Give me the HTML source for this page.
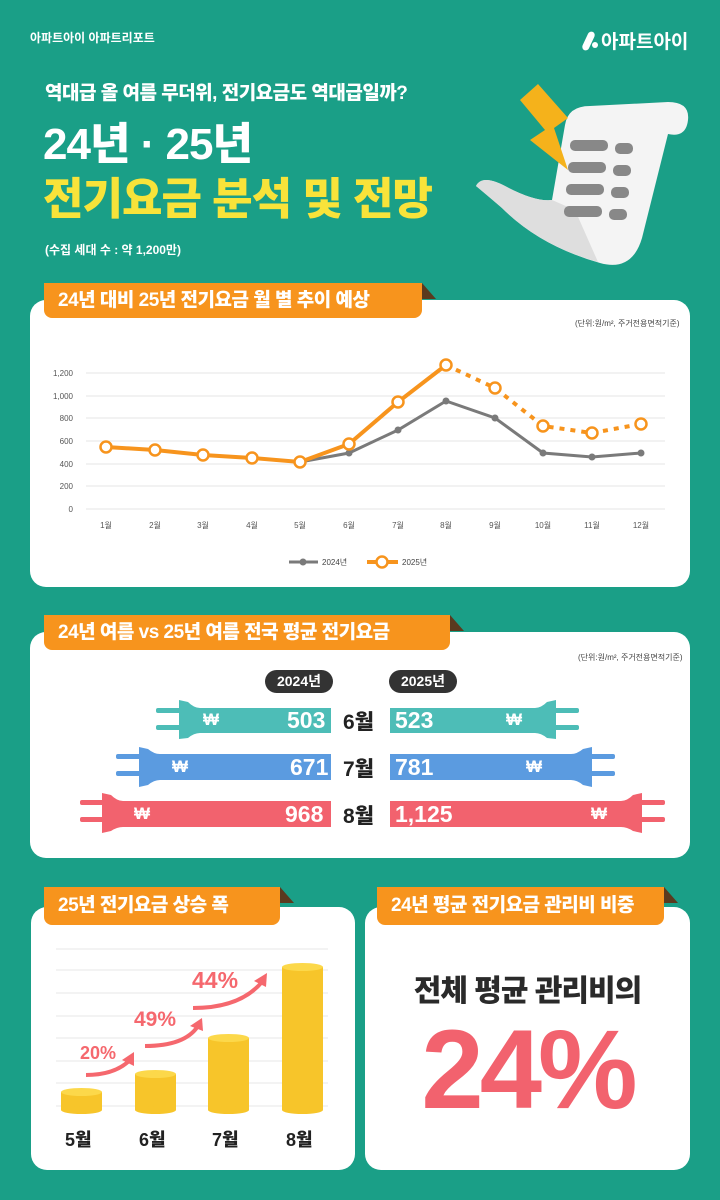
<!DOCTYPE html>
<html><head><meta charset="utf-8">
<style>
*{margin:0;padding:0;box-sizing:border-box}
body{width:720px;height:1200px;background:#1a9f87;font-family:"Liberation Sans","Noto Sans CJK KR",sans-serif;position:relative;overflow:hidden}
.a{position:absolute;white-space:nowrap}
.card{position:absolute;background:#fff;border-radius:16px}
.tab{position:absolute;background:#f7941d;border-radius:0 0 8px 8px;color:#fff;font-weight:900;font-size:19px;line-height:35px;padding-left:14px;letter-spacing:-0.5px}
.fold{position:absolute;width:0;height:0;border-bottom:16px solid #5a3a1e;border-right:14px solid transparent}
.pill{position:absolute;background:#333;color:#fff;font-weight:bold;font-size:14px;border-radius:12px;text-align:center;line-height:23px}
.v{position:absolute;color:#fff;font-weight:900;font-size:23px;line-height:26px}
.m{position:absolute;font-weight:900;font-size:21px;color:#222}
</style></head><body>

<div class="a" style="left:30px;top:29px;color:#fff;font-weight:bold;font-size:12px">아파트아이 아파트리포트</div>
<div class="a" style="left:585px;top:27px;color:#fff;font-weight:bold;font-size:19px"><span style="display:inline-block;width:7px;height:20px;background:#fff;border-radius:4px;transform:rotate(25deg);vertical-align:-3px"></span><span style="display:inline-block;width:6px;height:6px;background:#fff;border-radius:3px;margin-right:3px"></span>아파트아이</div>

<div class="a" style="left:45px;top:78px;color:#fff;font-weight:900;font-size:19px;letter-spacing:-0.5px">역대급 올 여름 무더위, 전기요금도 역대급일까?</div>
<div class="a" style="left:43px;top:108px;color:#fff;font-weight:900;font-size:44px;letter-spacing:-1px">24년 · 25년</div>
<div class="a" style="left:43px;top:163px;color:#f8e33a;font-weight:900;font-size:44px;letter-spacing:-1px">전기요금 분석 및 전망</div>
<div class="a" style="left:45px;top:241px;color:#fff;font-weight:bold;font-size:12px">(수집 세대 수 : 약 1,200만)</div>

<svg class="a" style="left:0;top:0" width="720" height="300">
 <path d="M565,125 Q568,106 590,106 L668,102 Q690,102 688,120 Q686,138 668,134 L642,238 Q632,272 600,263 Q540,246 502,208 Q485,193 476,186 Q482,174 505,186 Q535,202 552,200 Z" fill="#f4f4f4"/>
 <path d="M476,186 Q482,174 505,186 Q535,202 552,200 L575,210 L598,262 Q540,246 502,208 Z" fill="#dedede"/>
 <g fill="#888">
  <rect x="570" y="140" width="38" height="11" rx="5"/><rect x="615" y="143" width="18" height="11" rx="5"/>
  <rect x="568" y="162" width="38" height="11" rx="5"/><rect x="613" y="165" width="18" height="11" rx="5"/>
  <rect x="566" y="184" width="38" height="11" rx="5"/><rect x="611" y="187" width="18" height="11" rx="5"/>
  <rect x="564" y="206" width="38" height="11" rx="5"/><rect x="609" y="209" width="18" height="11" rx="5"/></g>
 <path d="M538,84 L568,118 L554,128 L568,170 L530,140 L545,130 L520,100 Z" fill="#f5b21b"/>
</svg>

<!-- card 1 -->
<div class="card" style="left:30px;top:300px;width:660px;height:287px"></div>
<div class="fold" style="left:422px;top:283px"></div>
<div class="tab" style="left:44px;top:283px;width:378px;height:35px">24년 대비 25년 전기요금 월 별 추이 예상</div>
<div class="a" style="left:575px;top:318px;font-size:8px;color:#444">(단위:원/m², 주거전용면적기준)</div>
<svg class="a" style="left:0;top:0" width="720" height="600">
 <g stroke="#e6e6e6" stroke-width="1">
  <line x1="86" x2="665" y1="373" y2="373"/><line x1="86" x2="665" y1="396" y2="396"/><line x1="86" x2="665" y1="418" y2="418"/>
  <line x1="86" x2="665" y1="441" y2="441"/><line x1="86" x2="665" y1="464" y2="464"/><line x1="86" x2="665" y1="486" y2="486"/><line x1="86" x2="665" y1="509" y2="509"/></g>
 <g font-size="8" fill="#555" text-anchor="end" font-family="Liberation Sans">
  <text x="73" y="376">1,200</text><text x="73" y="399">1,000</text><text x="73" y="421">800</text><text x="73" y="444">600</text><text x="73" y="467">400</text><text x="73" y="489">200</text><text x="73" y="512">0</text></g>
 <g font-size="8" fill="#555" text-anchor="middle" font-family="Liberation Sans,Noto Sans CJK KR">
  <text x="106" y="528">1월</text><text x="155" y="528">2월</text><text x="203" y="528">3월</text><text x="252" y="528">4월</text><text x="300" y="528">5월</text><text x="349" y="528">6월</text><text x="398" y="528">7월</text><text x="446" y="528">8월</text><text x="495" y="528">9월</text><text x="543" y="528">10월</text><text x="592" y="528">11월</text><text x="641" y="528">12월</text></g>
 <polyline fill="none" stroke="#7a7a7a" stroke-width="3" points="300,462 349,453 398,430 446,401 495,418 543,453 592,457 641,453"/>
 <g fill="#7a7a7a"><circle cx="349" cy="453" r="3.5"/><circle cx="398" cy="430" r="3.5"/><circle cx="446" cy="401" r="3.5"/><circle cx="495" cy="418" r="3.5"/><circle cx="543" cy="453" r="3.5"/><circle cx="592" cy="457" r="3.5"/><circle cx="641" cy="453" r="3.5"/></g>
 <polyline fill="none" stroke="#f7941d" stroke-width="4" points="106,447 155,450 203,455 252,458 300,462 349,444 398,402 446,365"/>
 <polyline fill="none" stroke="#f7941d" stroke-width="4" stroke-dasharray="5,6" points="446,365 495,388 543,426 592,433 641,424"/>
 <g fill="#fff" stroke="#f7941d" stroke-width="2.5">
  <circle cx="106" cy="447" r="5.5"/><circle cx="155" cy="450" r="5.5"/><circle cx="203" cy="455" r="5.5"/><circle cx="252" cy="458" r="5.5"/><circle cx="300" cy="462" r="5.5"/><circle cx="349" cy="444" r="5.5"/><circle cx="398" cy="402" r="5.5"/><circle cx="446" cy="365" r="5.5"/><circle cx="495" cy="388" r="5.5"/><circle cx="543" cy="426" r="5.5"/><circle cx="592" cy="433" r="5.5"/><circle cx="641" cy="424" r="5.5"/></g>
 <line x1="289" x2="318" y1="562" y2="562" stroke="#7a7a7a" stroke-width="3"/><circle cx="303" cy="562" r="3.5" fill="#7a7a7a"/>
 <text x="322" y="565" font-size="8" fill="#444" font-family="Liberation Sans,Noto Sans CJK KR">2024년</text>
 <line x1="367" x2="398" y1="562" y2="562" stroke="#f7941d" stroke-width="4"/><circle cx="382" cy="562" r="5.5" fill="#fff" stroke="#f7941d" stroke-width="2.5"/>
 <text x="402" y="565" font-size="8" fill="#444" font-family="Liberation Sans,Noto Sans CJK KR">2025년</text>
</svg>

<!-- card 2 -->
<div class="card" style="left:30px;top:632px;width:660px;height:226px"></div>
<div class="fold" style="left:450px;top:615px"></div>
<div class="tab" style="left:44px;top:615px;width:406px;height:35px">24년 여름 vs 25년 여름 전국 평균 전기요금</div>
<div class="a" style="left:578px;top:652px;font-size:8px;color:#444">(단위:원/m², 주거전용면적기준)</div>
<div class="pill" style="left:265px;top:670px;width:68px;height:23px">2024년</div>
<div class="pill" style="left:389px;top:670px;width:68px;height:23px">2025년</div>
<svg class="a" style="left:0;top:0" width="720" height="860">
 <g fill="#4dbdb7">
  <rect x="156" y="708" width="26" height="5" rx="2"/><rect x="156" y="725" width="26" height="5" rx="2"/>
  <path d="M179,700 L188,702 Q194,708 200,708 L331,708 L331,733 L200,733 Q194,733 188,738 L179,739 Z"/>
  <rect x="553" y="708" width="26" height="5" rx="2"/><rect x="553" y="725" width="26" height="5" rx="2"/>
  <path d="M556,700 L547,702 Q541,708 535,708 L390,708 L390,733 L535,733 Q541,733 547,738 L556,739 Z"/></g>
 <g fill="#5b9be0">
  <rect x="116" y="754" width="26" height="5" rx="2"/><rect x="116" y="771" width="26" height="5" rx="2"/>
  <path d="M139,747 L148,749 Q154,754 160,754 L331,754 L331,780 L160,780 Q154,780 148,785 L139,787 Z"/>
  <rect x="589" y="754" width="26" height="5" rx="2"/><rect x="589" y="771" width="26" height="5" rx="2"/>
  <path d="M592,747 L583,749 Q577,754 571,754 L390,754 L390,780 L571,780 Q577,780 583,785 L592,787 Z"/></g>
 <g fill="#f2626e">
  <rect x="80" y="800" width="26" height="5" rx="2"/><rect x="80" y="817" width="26" height="5" rx="2"/>
  <path d="M102,793 L111,795 Q117,801 123,801 L331,801 L331,827 L123,827 Q117,827 111,831 L102,833 Z"/>
  <rect x="639" y="800" width="26" height="5" rx="2"/><rect x="639" y="817" width="26" height="5" rx="2"/>
  <path d="M642,793 L633,795 Q627,801 621,801 L390,801 L390,827 L621,827 Q627,827 633,831 L642,833 Z"/></g>
</svg>
<div class="v" style="left:203px;top:707px;font-size:17px">₩</div><div class="v" style="left:287px;top:707px">503</div>
<div class="v" style="left:395px;top:707px">523</div><div class="v" style="left:506px;top:707px;font-size:17px">₩</div>
<div class="v" style="left:172px;top:754px;font-size:17px">₩</div><div class="v" style="left:290px;top:754px">671</div>
<div class="v" style="left:395px;top:754px">781</div><div class="v" style="left:526px;top:754px;font-size:17px">₩</div>
<div class="v" style="left:134px;top:801px;font-size:17px">₩</div><div class="v" style="left:285px;top:801px">968</div>
<div class="v" style="left:395px;top:801px">1,125</div><div class="v" style="left:591px;top:801px;font-size:17px">₩</div>
<div class="m" style="left:343px;top:706px">6월</div>
<div class="m" style="left:343px;top:753px">7월</div>
<div class="m" style="left:343px;top:800px">8월</div>

<!-- card 3 -->
<div class="card" style="left:31px;top:907px;width:324px;height:263px"></div>
<div class="fold" style="left:280px;top:887px"></div>
<div class="tab" style="left:44px;top:887px;width:236px;height:38px;line-height:38px">25년 전기요금 상승 폭</div>
<svg class="a" style="left:0;top:0" width="720" height="1200">
 <g stroke="#ececec" stroke-width="1.2">
  <line x1="56" x2="328" y1="949" y2="949"/><line x1="56" x2="328" y1="970" y2="970"/><line x1="56" x2="328" y1="993" y2="993"/><line x1="56" x2="328" y1="1016" y2="1016"/><line x1="56" x2="328" y1="1038" y2="1038"/><line x1="56" x2="328" y1="1061" y2="1061"/><line x1="56" x2="328" y1="1083" y2="1083"/><line x1="56" x2="328" y1="1106" y2="1106"/></g>
 <g fill="#f7c52a">
  <rect x="61" y="1092" width="41" height="18"/><ellipse cx="81.5" cy="1092" rx="20.5" ry="4" fill="#fcd84a"/><ellipse cx="81.5" cy="1110" rx="20.5" ry="4"/>
  <rect x="135" y="1074" width="41" height="36"/><ellipse cx="155.5" cy="1074" rx="20.5" ry="4" fill="#fcd84a"/><ellipse cx="155.5" cy="1110" rx="20.5" ry="4"/>
  <rect x="208" y="1038" width="41" height="72"/><ellipse cx="228.5" cy="1038" rx="20.5" ry="4" fill="#fcd84a"/><ellipse cx="228.5" cy="1110" rx="20.5" ry="4"/>
  <rect x="282" y="967" width="41" height="143"/><ellipse cx="302.5" cy="967" rx="20.5" ry="4" fill="#fcd84a"/><ellipse cx="302.5" cy="1110" rx="20.5" ry="4"/></g>
 <g fill="none" stroke="#f5686e" stroke-width="4">
  <path d="M86,1075 Q115,1075 130,1060"/><path d="M145,1046 Q185,1046 198,1026"/><path d="M193,1008 Q240,1008 262,982"/></g>
 <g fill="#f5686e"><path d="M134,1052 L122,1060 L134,1066 Z"/><path d="M202,1018 L190,1026 L203,1031 Z"/><path d="M267,973 L254,981 L266,987 Z"/></g>
 <g font-weight="bold" fill="#f5686e" font-family="Liberation Sans"><text x="80" y="1059" font-size="18">20%</text><text x="134" y="1026" font-size="21">49%</text><text x="192" y="988" font-size="23">44%</text></g>
</svg>
<div class="m" style="left:65px;top:1126px;font-size:18px">5월</div>
<div class="m" style="left:139px;top:1126px;font-size:18px">6월</div>
<div class="m" style="left:212px;top:1126px;font-size:18px">7월</div>
<div class="m" style="left:286px;top:1126px;font-size:18px">8월</div>

<!-- card 4 -->
<div class="card" style="left:365px;top:907px;width:325px;height:263px"></div>
<div class="fold" style="left:664px;top:887px"></div>
<div class="tab" style="left:377px;top:887px;width:287px;height:38px;line-height:38px">24년 평균 전기요금 관리비 비중</div>
<div class="a" style="left:365px;width:325px;text-align:center;top:966px;font-weight:900;font-size:30px;color:#2a2a2a;letter-spacing:-1px">전체 평균 관리비의</div>
<div class="a" style="left:365px;width:325px;text-align:center;top:1010px;font-weight:900;font-size:112px;line-height:120px;color:#f2626e;letter-spacing:-4px">24%</div>
</body></html>
